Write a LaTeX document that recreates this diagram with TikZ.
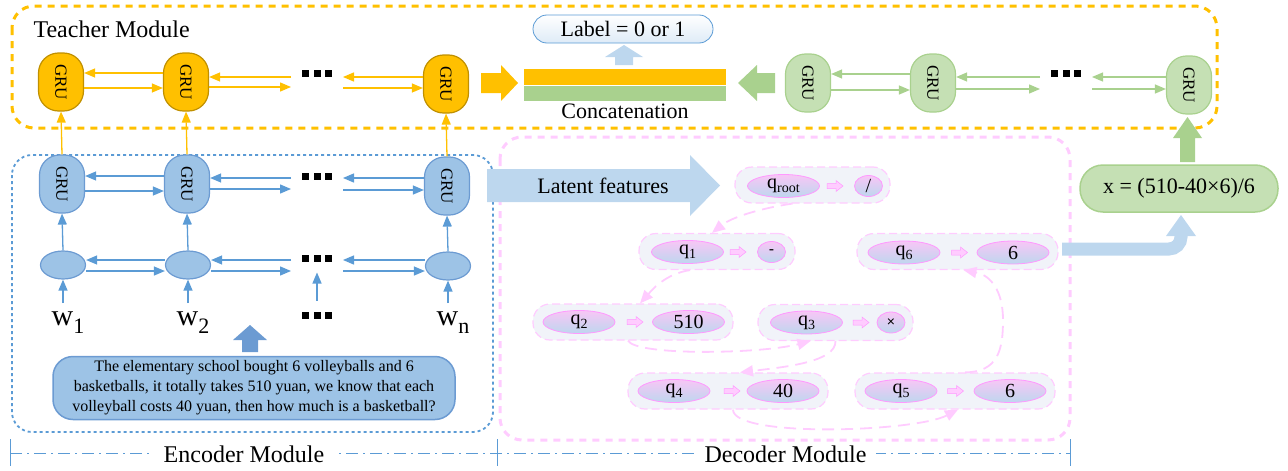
\documentclass[tikz,border=0pt]{standalone}
\usepackage{fontspec}
\setmainfont{Liberation Serif}
\newfontfamily\sansf{Liberation Sans}
\usetikzlibrary{arrows.meta,shapes.geometric}
\definecolor{orF}{HTML}{FFC000}
\definecolor{orD}{HTML}{C09000}
\definecolor{grF}{HTML}{C5E0B4}
\definecolor{grD}{HTML}{A9D18E}
\definecolor{blF}{HTML}{9DC3E6}
\definecolor{blD}{HTML}{6C9BD2}
\definecolor{blA}{HTML}{5B9BD5}
\definecolor{ltB}{HTML}{BDD7EE}
\definecolor{pkL}{HTML}{FFCCFF}
\definecolor{pkD}{HTML}{FF99FF}
\definecolor{pkE}{HTML}{F8C6F6}
\definecolor{bgC}{HTML}{F1F3F9}
\definecolor{lbF}{HTML}{DEEBF7}
\newcommand\dotsq{\rule{7pt}{7pt}\hspace{4.5pt}\rule{7pt}{7pt}\hspace{4.5pt}\rule{7pt}{7pt}}
\newcommand\grutxt{\rotatebox{-90}{GRU}}
\newcommand\qsub[1]{q\raisebox{-4pt}{\fontsize{14}{14}\selectfont #1}}
\newcommand\wsub[1]{w\raisebox{-8pt}{\fontsize{22}{22}\selectfont #1}}
\begin{document}
\begin{tikzpicture}[x=1pt,y=-1pt,
  gru/.style={rectangle, rounded corners=20pt, minimum width=45pt, minimum height=58pt, inner sep=0pt, line width=1.2pt, font=\fontsize{17}{17}\selectfont},
  ogru/.style={gru, fill=orF, draw=orD},
  ggru/.style={gru, fill=grF, draw=grD},
  bgru/.style={gru, fill=blF, draw=blD},
  bell/.style={ellipse, fill=blF, draw=blD, line width=1.2pt, minimum width=45pt, minimum height=28pt, inner sep=0pt},
  dotsn/.style={inner sep=0pt, outer sep=11pt},
  tipa/.style={-{Triangle[length=11pt,width=9pt]}},
  oarr/.style={draw=orF, line width=1.3pt, tipa},
  garr/.style={draw=grD, line width=1.3pt, tipa},
  barr/.style={draw=blA, line width=1.3pt, tipa},
  cont/.style={rectangle, rounded corners=17pt, draw=pkL, fill=bgC, line width=1.2pt, dash pattern=on 8pt off 4pt, minimum height=36pt, inner sep=0pt},
  qell/.style={ellipse, draw=pkD, line width=0.8pt, top color=pkE, bottom color=ltB, minimum width=72pt, minimum height=23pt, inner sep=0pt, font=\fontsize{20}{20}\selectfont},
  sell/.style={qell, minimum width=28pt, minimum height=21pt},
  pdash/.style={draw=pkL, line width=1.8pt, dash pattern=on 12pt off 7pt, -{Triangle[length=13pt,width=11pt]}},
  pbarrow/.pic={\filldraw[fill=pkL, draw=pkD, line width=0.5pt] (-8,-2.5) -- (1,-2.5) -- (1,-5.5) -- (8,0) -- (1,5.5) -- (1,2.5) -- (-8,2.5) -- cycle;},
  big/.style={font=\fontsize{24}{24}\selectfont},
  mid/.style={font=\fontsize{22}{22}\selectfont},
  dim/.style={draw=blA, line width=1pt, dash pattern=on 12pt off 5pt on 2pt off 5pt}
]
\useasboundingbox (0,0) rectangle (1288,471);

% ---------- module frames ----------
\draw[draw=orF, line width=3pt, dash pattern=on 7pt off 6pt, rounded corners=22pt] (12,6) rectangle (1217,128);
\draw[draw=blA, line width=1.8pt, dash pattern=on 3pt off 3pt, rounded corners=20pt] (12,155) rectangle (493,432);
\draw[draw=pkL, line width=3pt, dash pattern=on 7pt off 6pt, rounded corners=22pt] (500,137) rectangle (1070,440);

\node[big, anchor=base west] (tm) at (30,37) {Teacher Module};

% ---------- teacher (orange) ----------
\node[ogru] (o1) at (61,82) {\grutxt};
\node[ogru] (o2) at (186,82) {\grutxt};
\node[dotsn] (od) at (317,73) {\dotsq};
\node[ogru] (o3) at (446,84) {\grutxt};
\draw[oarr] ([yshift=9pt]o2.west) -- ([yshift=9pt]o2.west -| o1.east);
\draw[oarr] ([yshift=-6pt]o1.east) -- ([yshift=-6pt]o1.east -| o2.west);
\draw[oarr] ([yshift=5pt]o2.east -| od.west) -- ([yshift=5pt]o2.east);
\draw[oarr] ([yshift=-5pt]o2.east) -- ([yshift=-5pt]o2.east -| od.west);
\draw[oarr] ([yshift=7pt]o3.west) -- ([yshift=7pt]o3.west -| od.east);
\draw[oarr] ([yshift=-4pt]o3.west -| od.east) -- ([yshift=-4pt]o3.west);

% ---------- teacher (green) ----------
\node[ggru] (g1) at (808,83) {\grutxt};
\node[ggru] (g2) at (933,83) {\grutxt};
\node[dotsn] (gd) at (1066,73) {\dotsq};
\node[ggru] (g3) at (1189,85) {\grutxt};
\draw[garr] ([yshift=9pt]g2.west) -- ([yshift=9pt]g2.west -| g1.east);
\draw[garr] ([yshift=-7pt]g1.east) -- ([yshift=-7pt]g1.east -| g2.west);
\draw[garr] ([yshift=6pt]g2.east -| gd.west) -- ([yshift=6pt]g2.east);
\draw[garr] ([yshift=-6pt]g2.east) -- ([yshift=-6pt]g2.east -| gd.west);
\draw[garr] ([yshift=8pt]g3.west) -- ([yshift=8pt]g3.west -| gd.east);
\draw[garr] ([yshift=-4pt]g3.west -| gd.east) -- ([yshift=-4pt]g3.west);

% ---------- concatenation ----------
\fill[orF] (481,73) -- (501,73) -- (501,65) -- (518,83) -- (501,101) -- (501,93) -- (481,93) -- cycle;
\fill[grD] (775,73) -- (757,73) -- (757,65) -- (738,83) -- (757,101) -- (757,93) -- (775,93) -- cycle;
\node[fill=orF, minimum width=202pt, minimum height=16pt, inner sep=0pt] (co) at (625,77) {};
\node[fill=grD, minimum width=202pt, minimum height=15pt, inner sep=0pt] (cg) at (625,93.5) {};
\node[mid, anchor=base] (cc) at (625,118) {Concatenation};
\fill[ltB] (624,45) -- (643,57) -- (633,57) -- (633,65) -- (615,65) -- (615,57) -- (605,57) -- cycle;
\node[mid, rectangle, rounded corners=14pt, draw=blA, line width=0.8pt, top color=white, bottom color=lbF, minimum width=180pt, minimum height=28pt, inner sep=0pt] (lab) at (623,29) {Label = 0 or 1};

% ---------- encoder ----------
\node[bgru] (b1) at (62,184) {\grutxt};
\node[bgru] (b2) at (187,184) {\grutxt};
\node[dotsn] (bd) at (317,176) {\dotsq};
\node[bgru] (b3) at (447,186) {\grutxt};
\draw[barr] ([yshift=8pt]b2.west) -- ([yshift=8pt]b2.west -| b1.east);
\draw[barr] ([yshift=-7pt]b1.east) -- ([yshift=-7pt]b1.east -| b2.west);
\draw[barr] ([yshift=6pt]b2.east -| bd.west) -- ([yshift=6pt]b2.east);
\draw[barr] ([yshift=-5pt]b2.east) -- ([yshift=-5pt]b2.east -| bd.west);
\draw[barr] ([yshift=8pt]b3.west) -- ([yshift=8pt]b3.west -| bd.east);
\draw[barr] ([yshift=-4pt]b3.west -| bd.east) -- ([yshift=-4pt]b3.west);

\node[bell] (e1) at (63,265) {};
\node[bell] (e2) at (188,265) {};
\node[dotsn] (ed) at (317,258) {\dotsq};
\node[bell] (e3) at (448,266) {};
\draw[barr] ([yshift=5pt]e2.west) -- ([yshift=5pt]e2.west -| e1.east);
\draw[barr] ([yshift=-6pt]e1.east) -- ([yshift=-6pt]e1.east -| e2.west);
\draw[barr] ([yshift=5pt]e2.east -| ed.west) -- ([yshift=5pt]e2.east);
\draw[barr] ([yshift=-6pt]e2.east) -- ([yshift=-6pt]e2.east -| ed.west);
\draw[barr] ([yshift=6pt]e3.west) -- ([yshift=6pt]e3.west -| ed.east);
\draw[barr] ([yshift=-5pt]e3.west -| ed.east) -- ([yshift=-5pt]e3.west);

\draw[barr] (e1.north) -- (b1.south);
\draw[barr] (e2.north) -- (b2.south);
\draw[barr] (e3.north) -- (b3.south);
\draw[oarr] (b1.north) -- (o1.south);
\draw[oarr] (b2.north) -- (o2.south);
\draw[oarr] (b3.north) -- (o3.south);

\node[font=\fontsize{30}{30}\selectfont, anchor=base, inner sep=0pt] (w1) at (68,325) {\wsub{1}};
\node[font=\fontsize{30}{30}\selectfont, anchor=base, inner sep=0pt] (w2) at (193,325) {\wsub{2}};
\node[dotsn] (wd) at (317,315) {\dotsq};
\node[font=\fontsize{30}{30}\selectfont, anchor=base, inner sep=0pt] (wn) at (453,325) {\wsub{n}};
\draw[barr] ([yshift=8pt]w1.north -| e1.south) -- (e1.south);
\draw[barr] ([yshift=8pt]w2.north -| e2.south) -- (e2.south);
\draw[barr] (wd.north) -- (ed.south);
\draw[barr] ([yshift=8pt]wn.north -| e3.south) -- (e3.south);

\fill[blD] (250,325) -- (267,340) -- (258,340) -- (258,352) -- (242,352) -- (242,340) -- (233,340) -- cycle;
\node[rectangle, rounded corners=20pt, fill=blF, draw=blD, line width=1.5pt, minimum width=402pt, minimum height=63pt, inner sep=0pt, align=center, font=\fontsize{16}{20}\selectfont] (txt) at (254,388)
  {The elementary school bought 6 volleyballs and 6\\ basketballs, it totally takes 510 yuan, we know that each\\ volleyball costs 40 yuan, then how much is a basketball?};

% ---------- decoder ----------
\fill[ltB] (487,169) -- (690,169) -- (690,155) -- (720,185.5) -- (690,216) -- (690,202) -- (487,202) -- cycle;
\node[mid, anchor=base] (lf) at (603,193) {Latent features};

\node[cont, minimum width=155pt] (c0) at (812.5,185) {};
\node[cont, minimum width=156pt] (c1) at (717,251.5) {};
\node[cont, minimum width=201pt] (c6) at (957.5,251.5) {};
\node[cont, minimum width=200pt] (c2) at (633,322) {};
\node[cont, minimum width=155pt] (c3) at (835.5,322.5) {};
\node[cont, minimum width=200pt] (c4) at (728,391) {};
\node[cont, minimum width=200pt] (c5) at (955,391) {};

\node[qell] (q0) at (783.5,186) {\qsub{root}};
\node[sell] (v0) at (868.5,186) {/};
\pic at (835,186) {pbarrow};
\node[qell] (q1) at (687.5,252) {\qsub{1}};
\node[sell, font=\sansf\fontsize{16}{16}\selectfont] (v1) at (771.5,252) {-};
\pic at (738,252) {pbarrow};
\node[qell] (q6) at (904,252.5) {\qsub{6}};
\node[qell] (v6) at (1013,252.5) {6};
\pic at (959.5,252.5) {pbarrow};
\node[qell] (q2) at (579,322) {\qsub{2}};
\node[qell] (v2) at (688.5,322) {510};
\pic at (635,322) {pbarrow};
\node[qell] (q3) at (806.5,322.5) {\qsub{3}};
\node[sell, font=\sansf\fontsize{14}{14}\selectfont] (v3) at (891,322.5) {×};
\pic at (861,322.5) {pbarrow};
\node[qell] (q4) at (674,391) {\qsub{4}};
\node[qell] (v4) at (783,391) {40};
\pic at (732,391) {pbarrow};
\node[qell] (q5) at (901,391) {\qsub{5}};
\node[qell] (v5) at (1010,391) {6};
\pic at (955.5,391) {pbarrow};

\draw[pdash] ([xshift=-20pt]c0.south) .. controls (762,208) and (732,217) .. ([xshift=-5pt]c1.north);
\draw[pdash] ([xshift=-27pt]c1.south) .. controls (665,274) and (652,290) .. ([xshift=7pt]c2.north);
\draw[pdash] ([xshift=-5pt]c2.south) .. controls (636,356) and (760,354) .. ([xshift=-25pt]c3.south);
\draw[pdash] (c3.south) .. controls (836,362) and (785,367) .. ([xshift=12pt]c4.north);
\draw[pdash] ([xshift=5pt]c4.south) .. controls (733,438) and (915,432) .. ([xshift=3pt]c5.south);
\draw[pdash] ([xshift=10pt]c5.north) .. controls (998,372) and (1003,350) .. (1003,320) .. controls (1003,290) and (990,275) .. ([xshift=6pt]c6.south);

% ---------- result ----------
\node[mid, rectangle, rounded corners=23pt, fill=grF, draw=grD, line width=1.5pt, minimum width=198pt, minimum height=47pt, inner sep=0pt] (res) at (1179,188.5) {x = (510-40×6)/6};
\fill[grD] (1187.5,117) -- (1202,138) -- (1195,138) -- (1195,162) -- (1180,162) -- (1180,138) -- (1173,138) -- cycle;
\draw[ltB, line width=13pt, rounded corners=12pt] (1062,249) -- (1181,249) -- (1181,235);
\fill[ltB] (1166,236) -- (1196,236) -- (1181,215) -- cycle;

% ---------- module labels ----------
\draw[dim] (10,453) -- (1070,453);
\draw[blA, line width=1pt] (10,439) -- (10,466);
\draw[blA, line width=1pt] (497,439) -- (497,466);
\draw[blA, line width=1pt] (1070,439) -- (1070,466);
\node[big, fill=white, inner xsep=10pt, inner ysep=1pt, anchor=base] (enc) at (244,462) {Encoder Module};
\node[big, fill=white, inner xsep=10pt, inner ysep=1pt, anchor=base] (dec) at (785.5,462) {Decoder Module};
\end{tikzpicture}
\end{document}
